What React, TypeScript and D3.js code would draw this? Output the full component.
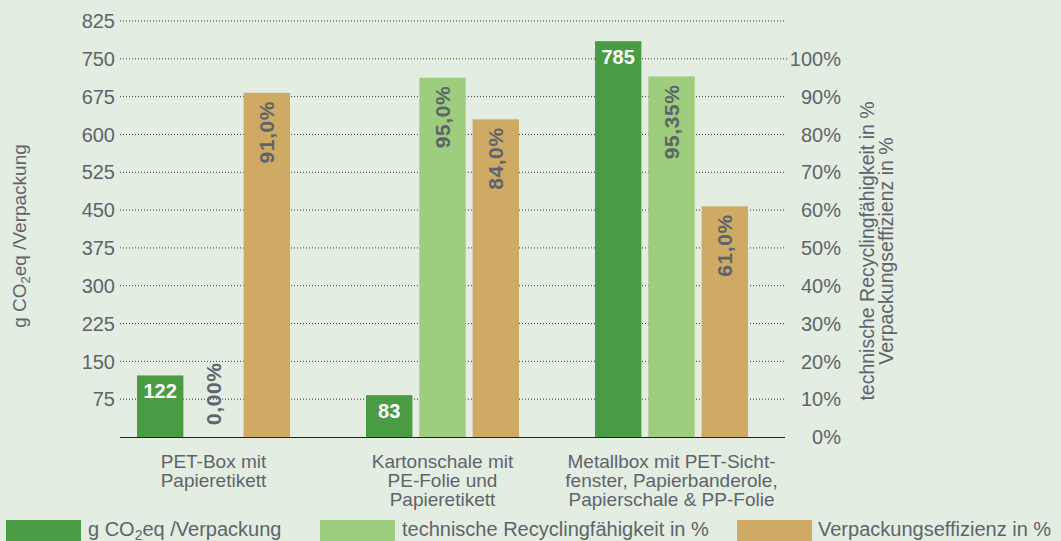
import { scaleBand, scaleLinear } from "d3";

const categories = ["PET-Box", "Kartonschale", "Metallbox"];
const categoryLines = [
  ["PET-Box mit", "Papieretikett"],
  ["Kartonschale mit", "PE-Folie und", "Papieretikett"],
  ["Metallbox mit PET-Sicht-", "fenster, Papierbanderole,", "Papierschale & PP-Folie"]
];
const series = ["co2", "recycling", "efficiency"];
const co2Values = [122, 83, 785];
const recyclingValues = [0, 0.95, 0.9535];
const efficiencyValues = [0.91, 0.84, 0.61];
const recyclingLabels = ["0,00%", "95,0%", "95,35%"];
const efficiencyLabels = ["91,0%", "84,0%", "61,0%"];
const leftTicks = [75, 150, 225, 300, 375, 450, 525, 600, 675, 750, 825];
const rightTicks = [0, 0.1, 0.2, 0.3, 0.4, 0.5, 0.6, 0.7, 0.8, 0.9, 1];

const width = 1061;
const height = 541;
const colors = { co2: "#499c43", recycling: "#9dcd7d", efficiency: "#cfaa65" };
const textColor = "#5e646b";
const font = "'Liberation Sans', Arial, Helvetica, sans-serif";

export default function App(): React.JSX.Element {
  const x0 = scaleBand<string>().domain(categories).range([99, 786]);
  const x1 = scaleBand<string>().domain(series).range([38, 191]).paddingInner(0.13);
  const yLeft = scaleLinear().domain([0, 825]).range([437, 21]);
  const yRight = scaleLinear().domain([0, 1]).range([437, yLeft(750)]);
  const bw = x1.bandwidth();

  const pctLabel = (cx: number, value: number, label: string, key: string) => {
    const top = yRight(value);
    const inside = 437 - top > 80;
    const yPos = inside ? top + 8 : top - 12;
    return (
      <text
        key={key}
        transform={`translate(${cx},${yPos}) rotate(-90)`}
        textAnchor={inside ? "end" : "start"}
        dy="0.36em"
        fontSize={21}
        letterSpacing={0.6}
        fontWeight="bold"
        fill={textColor}
      >
        {label}
      </text>
    );
  };

  const legend = [
    { key: "co2", x: 6, textX: 88 },
    { key: "recycling", x: 320, textX: 402, label: "technische Recyclingfähigkeit in %" },
    { key: "efficiency", x: 737, textX: 818, label: "Verpackungseffizienz in %" }
  ];

  return (
    <div style={{ position: "fixed", left: 0, top: 0 }}>
      <svg width={width} height={height} fontFamily={font}>
        <rect width={width} height={height} fill="#e3ede2" />
        {leftTicks.map((t) => (
          <g key={t}>
            <line
              x1={120}
              x2={t === 750 ? 788 : 785}
              y1={yLeft(t)}
              y2={yLeft(t)}
              stroke="#3a3a3a"
              strokeWidth={1}
              strokeDasharray="1,2"
            />
            <text x={115} y={yLeft(t)} dy="0.36em" textAnchor="end" fontSize={20} fill={textColor}>
              {t}
            </text>
          </g>
        ))}
        {rightTicks.map((t) => (
          <text
            key={t}
            x={841}
            y={yRight(t)}
            dy="0.36em"
            textAnchor="end"
            fontSize={20}
            fill={textColor}
          >
            {`${Math.round(t * 100)}%`}
          </text>
        ))}
        {categories.map((c, i) => {
          const gx = x0(c) ?? 0;
          const xc = gx + (x1("co2") ?? 0);
          const xr = gx + (x1("recycling") ?? 0);
          const xe = gx + (x1("efficiency") ?? 0);
          return (
            <g key={c}>
              <rect x={xc} width={bw} y={yLeft(co2Values[i])} height={437 - yLeft(co2Values[i])} fill={colors.co2} />
              <rect
                x={xr}
                width={bw}
                y={yRight(recyclingValues[i])}
                height={437 - yRight(recyclingValues[i])}
                fill={colors.recycling}
              />
              <rect
                x={xe}
                width={bw}
                y={yRight(efficiencyValues[i])}
                height={437 - yRight(efficiencyValues[i])}
                fill={colors.efficiency}
              />
              <text
                x={xc + bw / 2}
                y={yLeft(co2Values[i]) + 23}
                textAnchor="middle"
                fontSize={20}
                fontWeight="bold"
                fill="#ffffff"
              >
                {co2Values[i]}
              </text>
              {pctLabel(xr + bw / 2, recyclingValues[i], recyclingLabels[i], "r")}
              {pctLabel(xe + bw / 2, efficiencyValues[i], efficiencyLabels[i], "e")}
              {categoryLines[i].map((line, j) => (
                <text
                  key={j}
                  x={gx + (x0.bandwidth() / 2)}
                  y={468 + j * 19}
                  textAnchor="middle"
                  fontSize={19}
                  fill={textColor}
                >
                  {line}
                </text>
              ))}
            </g>
          );
        })}
        <line x1={120} x2={785} y1={437.5} y2={437.5} stroke="#222" strokeWidth={1.2} />
        <text transform="translate(26,236) rotate(-90)" textAnchor="middle" fontSize={19} fill={textColor}>
          g CO
          <tspan fontSize={13} dy={4}>2</tspan>
          <tspan dy={-4}>eq /Verpackung</tspan>
        </text>
        <text transform="translate(874,251) rotate(-90)" textAnchor="middle" fontSize={19.5} fill={textColor}>
          technische Recyclingfähigkeit in %
        </text>
        <text transform="translate(893,251) rotate(-90)" textAnchor="middle" fontSize={19.5} fill={textColor}>
          Verpackungseffizienz in %
        </text>
        {legend.map((l) => (
          <g key={l.key}>
            <rect x={l.x} y={520} width={75} height={22} fill={colors[l.key as keyof typeof colors]} />
            {l.key === "co2" ? (
              <text x={l.textX} y={536} fontSize={20} fill={textColor}>
                g CO
                <tspan fontSize={14} dy={4}>2</tspan>
                <tspan dy={-4}>eq /Verpackung</tspan>
              </text>
            ) : (
              <text x={l.textX} y={536} fontSize={20} fill={textColor}>
                {l.label}
              </text>
            )}
          </g>
        ))}
      </svg>
    </div>
  );
}
